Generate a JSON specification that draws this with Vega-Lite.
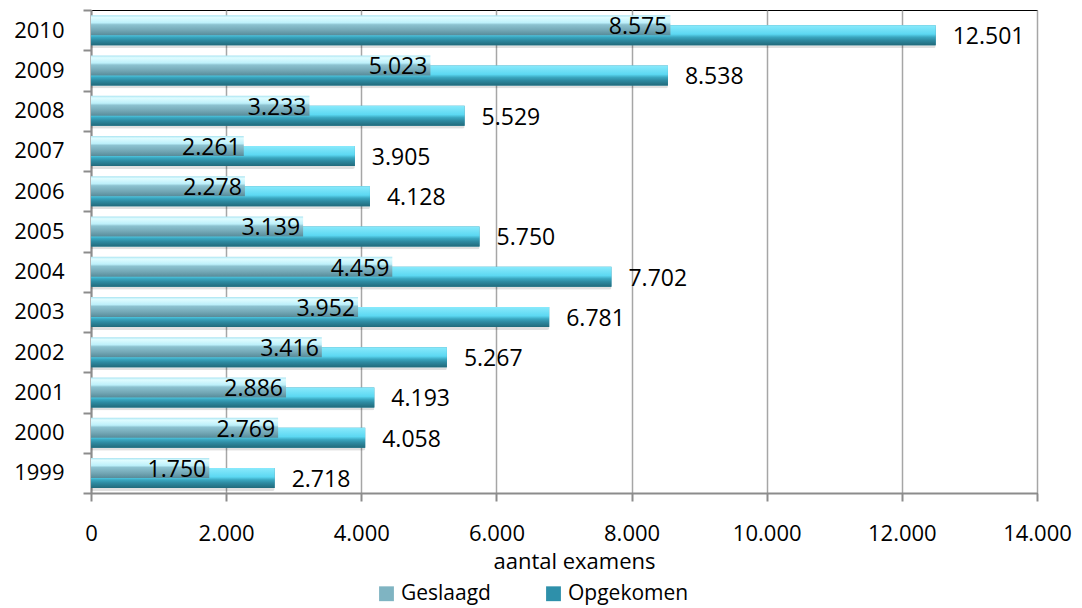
{
  "$schema": "https://vega.github.io/schema/vega-lite/v6.json",
  "width": 946,
  "height": 483,
  "autosize": "none",
  "padding": {"left": 91, "top": 10, "right": 45, "bottom": 115},
  "config": {
    "locale": {"number": {"decimal": ",", "thousands": ".", "grouping": [3], "currency": ["€", ""]}},
    "font": "Open Sans",
    "view": {"stroke": "#000000", "strokeWidth": 1}
  },
  "data": {
    "values": [
      {"year": "2010", "series": "Geslaagd", "value": 8575},
      {"year": "2010", "series": "Opgekomen", "value": 12501},
      {"year": "2009", "series": "Geslaagd", "value": 5023},
      {"year": "2009", "series": "Opgekomen", "value": 8538},
      {"year": "2008", "series": "Geslaagd", "value": 3233},
      {"year": "2008", "series": "Opgekomen", "value": 5529},
      {"year": "2007", "series": "Geslaagd", "value": 2261},
      {"year": "2007", "series": "Opgekomen", "value": 3905},
      {"year": "2006", "series": "Geslaagd", "value": 2278},
      {"year": "2006", "series": "Opgekomen", "value": 4128},
      {"year": "2005", "series": "Geslaagd", "value": 3139},
      {"year": "2005", "series": "Opgekomen", "value": 5750},
      {"year": "2004", "series": "Geslaagd", "value": 4459},
      {"year": "2004", "series": "Opgekomen", "value": 7702},
      {"year": "2003", "series": "Geslaagd", "value": 3952},
      {"year": "2003", "series": "Opgekomen", "value": 6781},
      {"year": "2002", "series": "Geslaagd", "value": 3416},
      {"year": "2002", "series": "Opgekomen", "value": 5267},
      {"year": "2001", "series": "Geslaagd", "value": 2886},
      {"year": "2001", "series": "Opgekomen", "value": 4193},
      {"year": "2000", "series": "Geslaagd", "value": 2769},
      {"year": "2000", "series": "Opgekomen", "value": 4058},
      {"year": "1999", "series": "Geslaagd", "value": 1750},
      {"year": "1999", "series": "Opgekomen", "value": 2718}
    ]
  },
  "encoding": {
    "y": {
      "field": "year",
      "type": "ordinal",
      "sort": "descending",
      "scale": {"paddingInner": 0, "paddingOuter": 0},
      "axis": {
        "title": null,
        "tickBand": "extent",
        "ticks": true,
        "tickSize": 8,
        "tickColor": "#8c8c8c",
        "tickWidth": 2,
        "domainColor": "#8c8c8c",
        "domainWidth": 2,
        "labelFontSize": 22,
        "labelColor": "#000000",
        "labelPadding": 19,
        "grid": false
      }
    },
    "x": {
      "field": "value",
      "type": "quantitative",
      "scale": {"domain": [0, 14000], "nice": false},
      "axis": {
        "title": "aantal examens",
        "titleFontSize": 22,
        "titleFontWeight": "normal",
        "titleColor": "#000000",
        "titlePadding": 7,
        "titleX": 483,
        "values": [0, 2000, 4000, 6000, 8000, 10000, 12000, 14000],
        "format": ",d",
        "labelFontSize": 22,
        "labelColor": "#000000",
        "labelPadding": 22,
        "labelFlush": false,
        "labelOverlap": false,
        "tickSize": 8,
        "tickColor": "#8c8c8c",
        "tickWidth": 2,
        "domainColor": "#8c8c8c",
        "domainWidth": 2,
        "grid": true,
        "gridColor": "#a6a6a6",
        "gridWidth": 1.5
      }
    }
  },
  "layer": [
    {
      "transform": [{"filter": "datum.series === 'Opgekomen'"}],
      "mark": {"type": "bar", "height": 20, "yOffset": 8, "color": "#000000", "opacity": 0.12, "cornerRadius": 2},
      "encoding": {}
    },
    {
      "transform": [{"filter": "datum.series === 'Opgekomen'"}],
      "mark": {"type": "bar", "height": 20, "yOffset": 5},
      "encoding": {
        "color": {
          "field": "series",
          "type": "nominal",
          "scale": {"domain": ["Geslaagd", "Opgekomen"], "range": ["#7fb4c2", "#2e90aa"]},
          "legend": {
            "title": null,
            "orient": "none",
            "direction": "horizontal",
            "legendX": 285,
            "legendY": 573,
            "labelFontSize": 21,
            "labelColor": "#000000",
            "symbolType": "square",
            "symbolSize": 220,
            "symbolStrokeWidth": 0,
            "labelOffset": 4,
            "columnPadding": 52
          }
        }
      }
    },
    {
      "transform": [{"filter": "datum.series === 'Opgekomen'"}],
      "mark": {
        "type": "bar",
        "height": 20,
        "yOffset": 5,
        "color": {
          "gradient": "linear",
          "x1": 0, "y1": 0, "x2": 0, "y2": 1,
          "stops": [
            {"offset": 0, "color": "#8aeafc"},
            {"offset": 0.45, "color": "#5cd8f2"},
            {"offset": 0.6, "color": "#3aa7c0"},
            {"offset": 0.75, "color": "#2e8ba2"},
            {"offset": 1, "color": "#226b7c"}
          ]
        }
      },
      "encoding": {}
    },
    {
      "transform": [{"filter": "datum.series === 'Geslaagd'"}],
      "mark": {
        "type": "bar",
        "height": 20,
        "yOffset": -5,
        "color": {
          "gradient": "linear",
          "x1": 0, "y1": 0, "x2": 0, "y2": 1,
          "stops": [
            {"offset": 0, "color": "#a6e2f0"},
            {"offset": 0.12, "color": "#dffcff"},
            {"offset": 0.38, "color": "#bdf0fa"},
            {"offset": 0.48, "color": "#8cc2d0"},
            {"offset": 0.75, "color": "#74a8b6"},
            {"offset": 1, "color": "#588c9a"}
          ]
        }
      },
      "encoding": {}
    },
    {
      "transform": [{"filter": "datum.series === 'Geslaagd'"}],
      "mark": {"type": "text", "align": "right", "baseline": "middle", "dx": -3, "yOffset": -3, "fontSize": 23, "color": "#000000"},
      "encoding": {"text": {"field": "value", "type": "quantitative", "format": ",d"}}
    },
    {
      "transform": [{"filter": "datum.series === 'Opgekomen'"}],
      "mark": {"type": "text", "align": "left", "baseline": "middle", "dx": 17, "yOffset": 7, "fontSize": 23, "color": "#000000"},
      "encoding": {"text": {"field": "value", "type": "quantitative", "format": ",d"}}
    }
  ]
}
